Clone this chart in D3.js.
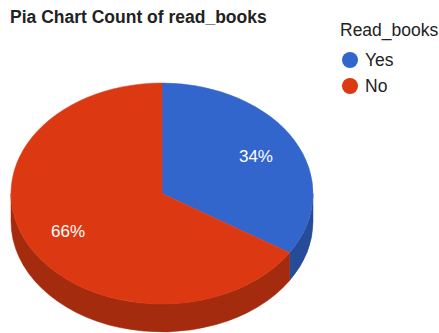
<!DOCTYPE html>
<html>
<head>
<meta charset="utf-8">
<script src="https://cdn.jsdelivr.net/npm/d3@7"></script>
<style>
  html, body { margin: 0; padding: 0; background: #fff; }
  svg { display: block; font-family: Arial, "Liberation Sans", sans-serif; }
</style>
</head>
<body>
<svg id="chart" width="439" height="333"></svg>
<script>
// Answers to "read_books"
const categories = ["Yes", "No"];
const counts = [34, 66];
const topColors = ["#3366cc", "#dc3912"];
const sideColors = ["#264c99", "#a52b0e"];
const chartTitle = "Pia Chart Count of read_books";
const legendTitle = "Read_books";

const svg = d3.select("#chart");

// Tilted pie geometry
const cx = 162, cy = 193.5, rx = 151, ry = 110.5, depth = 28;

const data = categories.map((c, i) => ({ category: c, value: counts[i], i }));
const pie = d3.pie().value(d => d.value).sort(null).startAngle(0).endAngle(2 * Math.PI);
const arcs = pie(data);
const total = d3.sum(counts);

const color = d3.scaleOrdinal().domain(categories).range(topColors);
const sideColor = d3.scaleOrdinal().domain(categories).range(sideColors);

// point on the tilted ellipse, angle measured clockwise from 12 o'clock
const px = (a, dy = 0) => [cx + rx * Math.sin(a), cy - ry * Math.cos(a) + dy];

// Outer wall: only the front half (angles π/2 .. 3π/2) is visible
const frontStart = Math.PI / 2, frontEnd = 3 * Math.PI / 2;
const walls = svg.append("g");
arcs.forEach(a => {
  const s = Math.max(a.startAngle, frontStart);
  const e = Math.min(a.endAngle, frontEnd);
  if (e <= s) return;
  const [x0, y0] = px(s), [x1, y1] = px(e);
  const [x2, y2] = px(e, depth), [x3, y3] = px(s, depth);
  const large = (e - s) > Math.PI ? 1 : 0;
  walls.append("path")
    .attr("d", `M${x0},${y0}A${rx},${ry} 0 ${large} 1 ${x1},${y1}L${x2},${y2}A${rx},${ry} 0 ${large} 0 ${x3},${y3}Z`)
    .attr("fill", sideColor(a.data.category))
    .attr("stroke", sideColor(a.data.category))
    .attr("stroke-width", 0.5);
});

// Top face slices
const topG = svg.append("g");
arcs.forEach(a => {
  const s = a.startAngle, e = a.endAngle;
  const [x0, y0] = px(s), [x1, y1] = px(e);
  const large = (e - s) > Math.PI ? 1 : 0;
  topG.append("path")
    .attr("d", `M${cx},${cy}L${x0},${y0}A${rx},${ry} 0 ${large} 1 ${x1},${y1}Z`)
    .attr("fill", color(a.data.category))
    .attr("stroke", color(a.data.category))
    .attr("stroke-width", 0.5);
});

// Percentage labels
const fmt = d3.format(".0%");
topG.selectAll("text.pct")
  .data(arcs)
  .join("text")
  .attr("class", "pct")
  .attr("x", d => cx + 0.71 * rx * Math.sin((d.startAngle + d.endAngle) / 2))
  .attr("y", d => cy - 0.71 * ry * Math.cos((d.startAngle + d.endAngle) / 2))
  .attr("dy", "0.36em")
  .attr("text-anchor", "middle")
  .attr("fill", "#ffffff")
  .attr("font-size", 17)
  .text(d => fmt(d.value / total));

// Title
svg.append("text")
  .attr("x", 10)
  .attr("y", 23)
  .attr("font-size", 17.5)
  .attr("font-weight", "bold")
  .attr("fill", "#222")
  .text(chartTitle);

// Legend
const legend = svg.append("g");
legend.append("text")
  .attr("x", 340)
  .attr("y", 36)
  .attr("font-size", 17.5)
  .attr("fill", "#222")
  .text(legendTitle);

const item = legend.selectAll("g.item")
  .data(categories)
  .join("g")
  .attr("class", "item")
  .attr("transform", (d, i) => `translate(350,${60 + i * 26})`);
item.append("circle")
  .attr("r", 8)
  .attr("fill", d => color(d));
item.append("text")
  .attr("x", 15)
  .attr("dy", "0.36em")
  .attr("font-size", 17.5)
  .attr("fill", "#222")
  .text(d => d);
</script>
</body>
</html>
